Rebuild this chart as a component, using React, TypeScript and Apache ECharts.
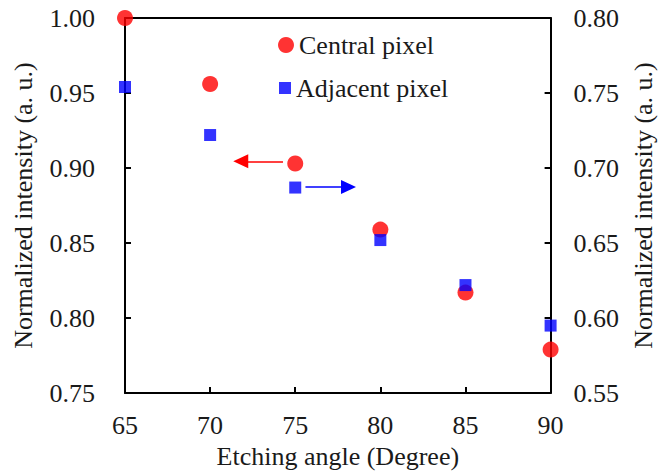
import React, { useEffect, useRef } from "react";
import * as echarts from "echarts";

const angles = [65, 70, 75, 80, 85, 90];
const centralPixel = [1.0, 0.956, 0.903, 0.859, 0.817, 0.779];
const adjacentPixel = [0.754, 0.722, 0.687, 0.652, 0.622, 0.595];
const seriesNames = ["Central pixel", "Adjacent pixel"];
const xTitle = "Etching angle (Degree)";
const yTitle = "Normalized intensity (a. u.)";
// arrow annotations in data coordinates: [start, head]
const redArrow = [[74.28, 0.9045], [71.8, 0.9045]];
const blueArrow = [[75.6, 0.6873], [78.13, 0.6873]];

const FONT = "Liberation Serif";
const FS = 26;
const TXT = "#1a1a1a";

export default function App() {
  const ref = useRef<HTMLDivElement>(null);
  useEffect(() => {
    if (!ref.current) return;
    document.body.style.margin = "0";
    const chart = echarts.init(ref.current, undefined, { renderer: "svg" });
    const axisLine = { show: true, lineStyle: { color: "#000", width: 2 } };
    const axisTick = { show: true, inside: true, length: 6, lineStyle: { color: "#000", width: 2 } };
    const label = { color: TXT, fontFamily: FONT, fontSize: FS };
    const legendText = { color: TXT, fontFamily: FONT, fontSize: FS };
    chart.setOption({
      animation: false,
      backgroundColor: "#fff",
      grid: { left: 125, right: 100, top: 18, bottom: 79, show: false },
      legend: [
        {
          left: 278,
          top: 32,
          padding: 0,
          itemWidth: 16,
          itemHeight: 16,
          textStyle: legendText,
          data: [{ name: seriesNames[0], icon: "circle" }],
        },
        {
          left: 279,
          top: 75,
          padding: 0,
          itemWidth: 12,
          itemHeight: 12,
          textStyle: legendText,
          data: [{ name: seriesNames[1], icon: "rect" }],
        },
      ],
      xAxis: [
        {
          type: "value",
          min: 65,
          max: 90,
          interval: 5,
          position: "bottom",
          name: xTitle,
          nameLocation: "middle",
          nameGap: 48,
          nameTextStyle: { ...label },
          axisLine,
          axisTick,
          axisLabel: { ...label, margin: 19 },
          splitLine: { show: false },
        },
        {
          type: "value",
          min: 65,
          max: 90,
          interval: 5,
          position: "top",
          axisLine,
          axisTick: { show: false },
          axisLabel: { show: false },
          splitLine: { show: false },
        },
      ],
      yAxis: [
        {
          type: "value",
          min: 0.75,
          max: 1.0,
          interval: 0.05,
          position: "left",
          name: yTitle,
          nameLocation: "middle",
          nameRotate: 90,
          nameGap: 89,
          nameTextStyle: { ...label },
          axisLine,
          axisTick,
          axisLabel: { ...label, margin: 30, formatter: (v: number) => v.toFixed(2) },
          splitLine: { show: false },
        },
        {
          type: "value",
          min: 0.55,
          max: 0.8,
          interval: 0.05,
          position: "right",
          name: yTitle,
          nameLocation: "middle",
          nameRotate: 90,
          nameGap: 74,
          nameTextStyle: { ...label },
          axisLine,
          axisTick,
          axisLabel: { ...label, margin: 23, formatter: (v: number) => v.toFixed(2) },
          splitLine: { show: false },
        },
      ],
      series: [
        {
          name: seriesNames[0],
          type: "scatter",
          xAxisIndex: 0,
          yAxisIndex: 0,
          symbol: "circle",
          symbolSize: 16,
          clip: false,
          itemStyle: { color: "#ff0000" },
          data: angles.map((a, i) => [a, centralPixel[i]]),
          z: 3,
          markLine: {
            silent: true,
            symbol: ["none", "triangle"],
            symbolSize: [14, 15],
            label: { show: false },
            lineStyle: { color: "#ff0000", width: 1.5, type: "solid" },
            data: [[{ coord: redArrow[0] }, { coord: redArrow[1] }]],
          },
        },
        {
          name: seriesNames[1],
          type: "scatter",
          xAxisIndex: 0,
          yAxisIndex: 1,
          symbol: "rect",
          symbolSize: 12,
          clip: false,
          itemStyle: { color: "#0000ff" },
          data: angles.map((a, i) => [a, adjacentPixel[i]]),
          z: 4,
          markLine: {
            silent: true,
            symbol: ["none", "triangle"],
            symbolSize: [14, 15],
            label: { show: false },
            lineStyle: { color: "#0000ff", width: 1.5, type: "solid" },
            data: [[{ coord: blueArrow[0] }, { coord: blueArrow[1] }]],
          },
        },
      ],
    });
    return () => chart.dispose();
  }, []);
  return (
    <div
      ref={ref}
      style={{ position: "absolute", left: 0, top: 0, width: 664, height: 474 }}
    />
  );
}
